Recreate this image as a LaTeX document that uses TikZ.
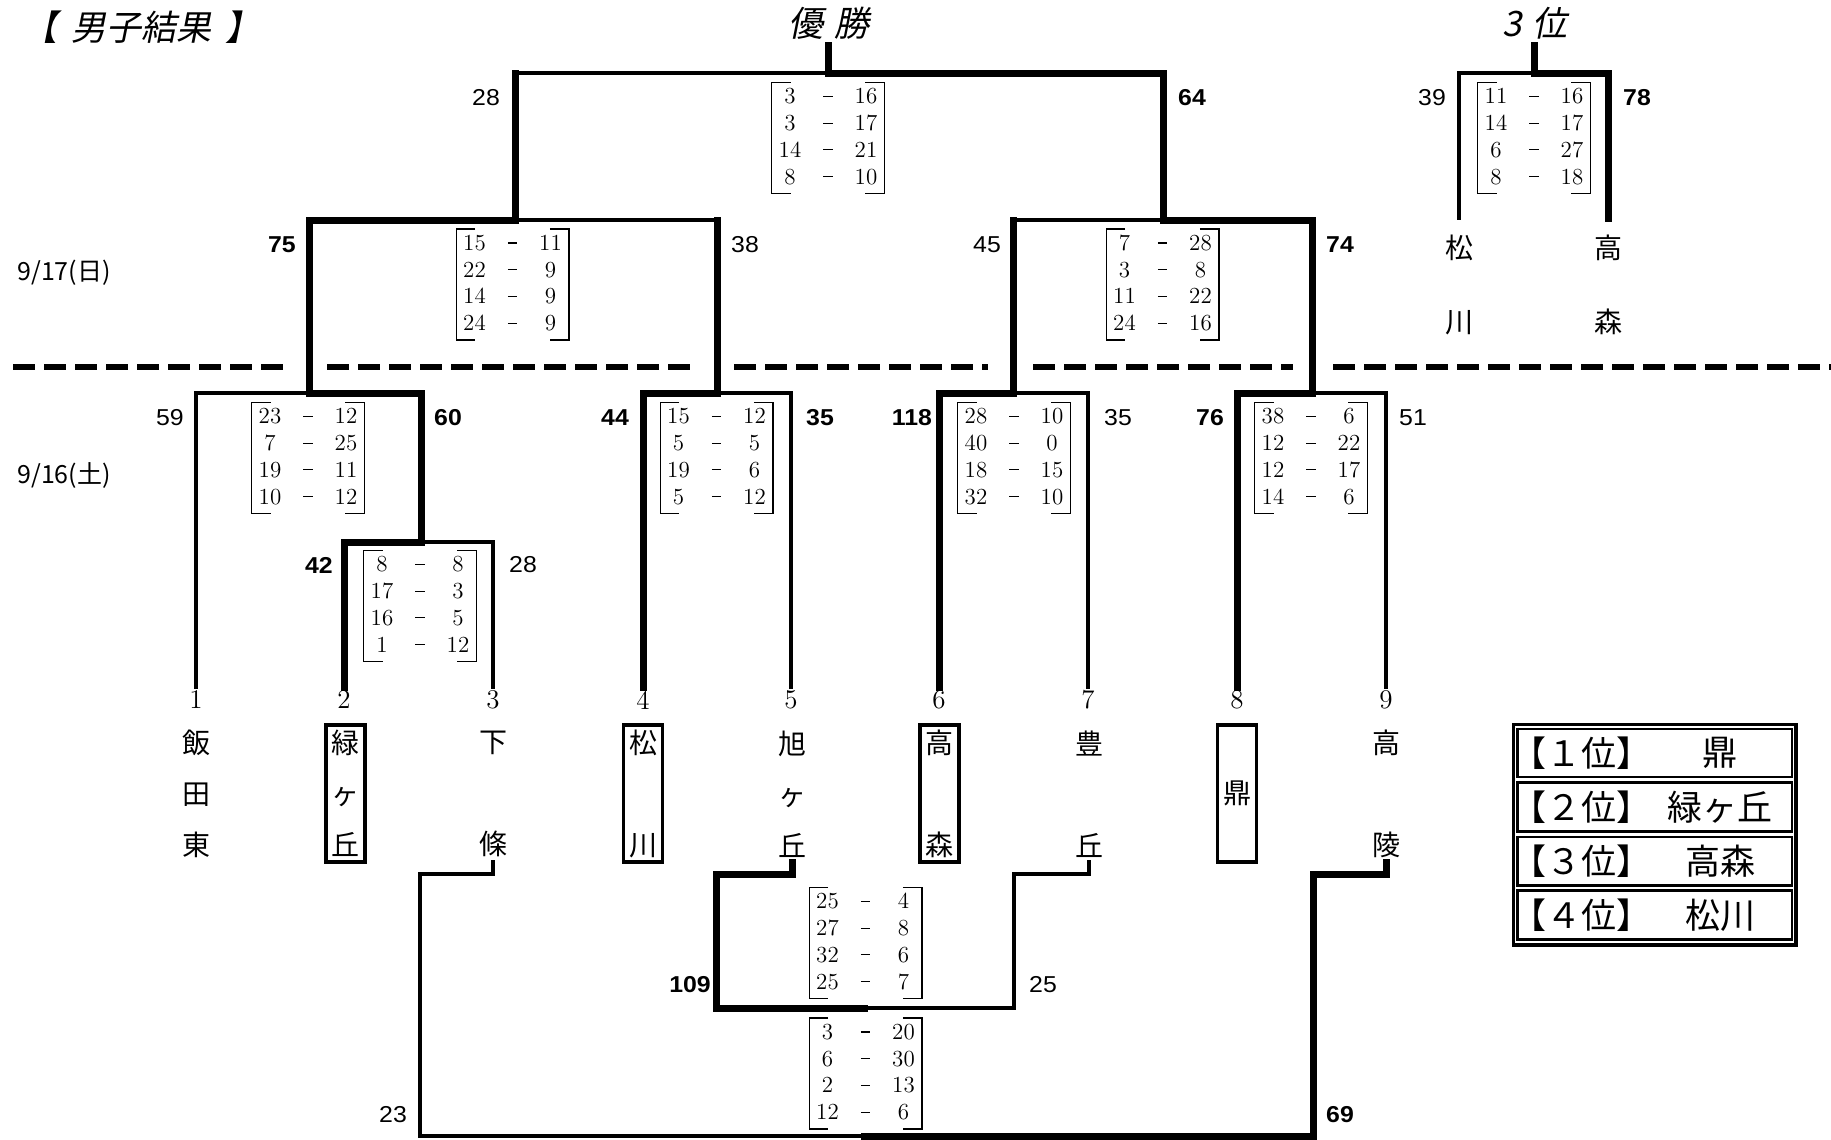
\documentclass[tikz,border=0pt]{standalone}
\usepackage{fontspec}
\usetikzlibrary{matrix}
\newfontfamily\jp{Noto Sans CJK JP}
\newfontfamily\jpit{Noto Sans CJK JP}[FakeSlant=0.2]
\newfontfamily\lab{Liberation Sans}[FakeStretch=1.08]
\newcommand\sdash{\rule[0.3em]{0.4em}{0.05em}}
\newcommand\ScoreBox[3]{%
  \matrix (#1) [scoremat] at (#2) {#3};
  \draw[bracketln] ([xshift=9.5pt]#1.north west) -- (#1.north west) -- (#1.south west) -- ([xshift=9.5pt]#1.south west);
  \draw[bracketln] ([xshift=-9.5pt]#1.north east) -- (#1.north east) -- (#1.south east) -- ([xshift=-9.5pt]#1.south east);
}
\begin{document}
\begin{tikzpicture}[x=0.5pt,y=-0.5pt,
  lose/.style={line width=1.6pt, line cap=rect, line join=miter},
  win/.style={line width=3.5pt, line cap=rect, line join=miter},
  dashln/.style={line width=3.3pt, dash pattern=on 11pt off 4.5pt},
  bracketln/.style={line width=0.6pt},
  scoremat/.style={matrix of nodes, ampersand replacement=\&, inner xsep=3pt, inner ysep=2.5pt,
     column sep=7pt, row sep=3.35pt,
     nodes={font=\fontsize{11.5}{13}\selectfont, inner sep=0pt, text width=12pt, align=center,
            text height=8pt, text depth=2pt}},
  lblr/.style={font=\lab\fontsize{11.5}{13}\selectfont, inner sep=0pt},
  lblb/.style={font=\lab\bfseries\fontsize{11.5}{13}\selectfont, inner sep=0pt},
  numlbl/.style={font=\fontsize{13.5}{15}\selectfont, inner sep=0pt},
  teamcol/.style={font=\jp\fontsize{14}{25.5}\selectfont, align=center, inner sep=0pt},
  teambox/.style={teamcol, draw, line width=1.65pt, minimum width=19.5pt, minimum height=68.5pt},
  third/.style={font=\jp\fontsize{14}{37}\selectfont, align=center, inner sep=0pt},
  heading/.style={font=\jpit\fontsize{17.5}{19}\selectfont, inner sep=0pt},
  datelbl/.style={font=\jp\fontsize{12.5}{14}\selectfont, inner sep=0pt},
  legtxt/.style={font=\jp\fontsize{17.5}{19}\selectfont, inner sep=0pt},
  legframe/.style={line width=1.65pt},
  legrow/.style={line width=1.35pt}
]
\fill[white] (0,0) rectangle (1831,1140);
\useasboundingbox (0,0) rectangle (1831,1140);

% headings
\node[heading] (title) at (142,27) {【\hspace{0.4em}男子結果\hspace{0.4em}】};
\node[heading] (champ) at (829,23) {優\hspace{0.3em}勝};
\node[heading] (thirdh) at (1535,23) {3\hspace{0.3em}位};
\node[datelbl] (d17) at (64,273) {9/17(日)};
\node[datelbl] (d16) at (64,475) {9/16(土)};

% day separator
\draw[dashln] (13,367) -- (289,367);
\draw[dashln] (327,367) -- (698,367);
\draw[dashln] (734,367) -- (988,367);
\draw[dashln] (1033,367) -- (1293,367);
\draw[dashln] (1333,367) -- (1831,367);

% losing lines
\draw[lose] (196,687) |- (309,393);
\draw[lose] (493,687) |- (421,542);
\draw[lose] (791,687) |- (717,393);
\draw[lose] (1088,687) |- (1013,393);
\draw[lose] (1386,687) |- (1312,393);
\draw[lose] (515,220) -- (717,220);
\draw[lose] (1013,220) -- (1163,220);
\draw[lose] (515,73) -- (828,73);
\draw[lose] (1459,218) |- (1534,73);
\draw[lose] (493,862) -- (493,874) -- (420,874) -- (420,1136) -- (864,1136);
\draw[lose] (864,1008) -- (1014,1008) -- (1014,874) -- (1089,874) -- (1089,862);

% winning lines
\draw[win] (344,687) |- (421,542) -- (421,393) -- (309,393) -- (309,220) -- (515,220) -- (515,73);
\draw[win] (643,687) |- (717,393) -- (717,220);
\draw[win] (939,687) |- (1013,393) -- (1013,220);
\draw[win] (1237,687) |- (1312,393) -- (1312,220) -- (1163,220) -- (1163,73) -- (828,73) -- (828,45);
\draw[win] (1608,218) |- (1534,73) -- (1534,45);
\draw[win] (792,862) -- (792,874) -- (716,874) -- (716,1008) -- (864,1008);
\draw[win] (864,1136) -- (1313,1136) -- (1313,874) -- (1386,874) -- (1386,862);

% score boxes
\ScoreBox{bf}{828,138}{3\&\sdash\&16\\3\&\sdash\&17\\14\&\sdash\&21\\8\&\sdash\&10\\}
\ScoreBox{bsl}{512.5,284.5}{15\&\sdash\&11\\22\&\sdash\&9\\14\&\sdash\&9\\24\&\sdash\&9\\}
\ScoreBox{bsr}{1162.5,284.5}{7\&\sdash\&28\\3\&\sdash\&8\\11\&\sdash\&22\\24\&\sdash\&16\\}
\ScoreBox{bth}{1534,138}{11\&\sdash\&16\\14\&\sdash\&17\\6\&\sdash\&27\\8\&\sdash\&18\\}
\ScoreBox{bq1}{308,458}{23\&\sdash\&12\\7\&\sdash\&25\\19\&\sdash\&11\\10\&\sdash\&12\\}
\ScoreBox{bq2}{716.5,458}{15\&\sdash\&12\\5\&\sdash\&5\\19\&\sdash\&6\\5\&\sdash\&12\\}
\ScoreBox{bq3}{1014,458}{28\&\sdash\&10\\40\&\sdash\&0\\18\&\sdash\&15\\32\&\sdash\&10\\}
\ScoreBox{bq4}{1311,458}{38\&\sdash\&6\\12\&\sdash\&22\\12\&\sdash\&17\\14\&\sdash\&6\\}
\ScoreBox{bpi}{420,606}{8\&\sdash\&8\\17\&\sdash\&3\\16\&\sdash\&5\\1\&\sdash\&12\\}
\ScoreBox{bca}{865.5,943}{25\&\sdash\&4\\27\&\sdash\&8\\32\&\sdash\&6\\25\&\sdash\&7\\}
\ScoreBox{bcb}{865.5,1073.5}{3\&\sdash\&20\\6\&\sdash\&30\\2\&\sdash\&13\\12\&\sdash\&6\\}

% total points
\node[lblr] (pf1) at (486,98) {28};
\node[lblb] (pf2) at (1192,98) {64};
\node[lblb] (ps1) at (282,245) {75};
\node[lblr] (ps2) at (745,245) {38};
\node[lblr] (ps3) at (987,245) {45};
\node[lblb] (ps4) at (1340,245) {74};
\node[lblr] (pt1) at (1432,98) {39};
\node[lblb] (pt2) at (1637,98) {78};
\node[lblr] (pq1) at (170,418) {59};
\node[lblb] (pq2) at (448,418) {60};
\node[lblb] (pp1) at (319,565) {42};
\node[lblr] (pp2) at (523,565) {28};
\node[lblb] (pq3) at (615,418) {44};
\node[lblb] (pq4) at (820,418) {35};
\node[lblb] (pq5) at (912,418) {118};
\node[lblr] (pq6) at (1118,418) {35};
\node[lblb] (pq7) at (1210,418) {76};
\node[lblr] (pq8) at (1413,418) {51};
\node[lblb] (pc1) at (690,985) {109};
\node[lblr] (pc2) at (1043,985) {25};
\node[lblr] (pc3) at (393,1115) {23};
\node[lblb] (pc4) at (1340,1115) {69};

% draw numbers
\foreach \i/\x in {1/196,2/344,3/493,4/643,5/791,6/939,7/1088,8/1237,9/1386}
  \node[numlbl] (num\i) at (\x,700) {\i};

% teams
\node[teamcol] (n1) at (196,794) {飯\\田\\東};
\node[teambox] (n2) at (345.5,793.5) {緑\\ヶ\\丘};
\node[teamcol] (n3) at (493,794) {下\\\phantom{下}\\條};
\node[teambox] (n4) at (643,793.5) {松\\\phantom{松}\\川};
\node[teamcol] (n5) at (792,794) {旭\\ヶ\\丘};
\node[teambox] (n6) at (939.5,793.5) {高\\\phantom{高}\\森};
\node[teamcol] (n7) at (1089,794) {豊\\\phantom{豊}\\丘};
\node[teambox] (n8) at (1237,793.5) {鼎};
\node[teamcol] (n9) at (1386,794) {高\\\phantom{高}\\陵};
\node[third] (m1) at (1459,285) {松\\川};
\node[third] (m2) at (1608,285) {高\\森};

% legend
\draw[legframe] (1513.4,724.4) rectangle (1796,945);
\draw[legrow] (1517.3,729) rectangle (1792,777);
\draw[legrow] (1517.3,782.3) rectangle (1792,831.3);
\draw[legrow] (1517.3,837) rectangle (1792,885.3);
\draw[legrow] (1517.3,890.6) rectangle (1792,939.6);
\node[legtxt] (r1) at (1581,753) {【１位】};
\node[legtxt] (r2) at (1581,807) {【２位】};
\node[legtxt] (r3) at (1581,861) {【３位】};
\node[legtxt] (r4) at (1581,915) {【４位】};
\node[legtxt] (w1) at (1720,753) {鼎};
\node[legtxt] (w2) at (1720,807) {緑ヶ丘};
\node[legtxt] (w3) at (1720,861) {高森};
\node[legtxt] (w4) at (1720,915) {松川};
\end{tikzpicture}
\end{document}
